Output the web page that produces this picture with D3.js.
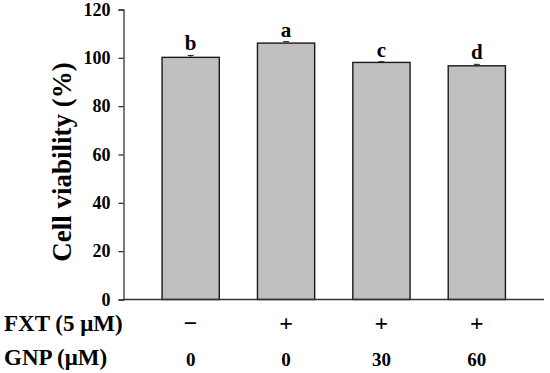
<!DOCTYPE html>
<html>
<head>
<script src="https://d3js.org/d3.v7.min.js"></script>
<style>
  body { margin: 0; background: #fff; }
</style>
</head>
<body>
<svg id="chart" width="550" height="373"></svg>
<script>
// data
var groups = ["g1", "g2", "g3", "g4"];
var viability = [100.2, 106.1, 98.1, 96.7];
var errors = [0.8, 0.6, 0.3, 0.6];
var letters = ["b", "a", "c", "d"];
var fxtRow = ["\u2212", "+", "+", "+"];
var gnpRow = ["0", "0", "30", "60"];
var yTicks = [0, 20, 40, 60, 80, 100, 120];

var serif = "'Liberation Serif', 'Times New Roman', 'DejaVu Serif', serif";

var svg = d3.select("#chart")
    .attr("font-family", serif)
    .attr("font-weight", "bold");

var x = d3.scaleBand().domain(groups).range([143, 524.5]).paddingInner(0.4).paddingOuter(0.2);
var y = d3.scaleLinear().domain([0, 120]).range([299.5, 9.5]);

// bars
svg.selectAll("rect.bar")
    .data(viability)
    .join("rect")
    .attr("class", "bar")
    .attr("x", (d, i) => x(groups[i]))
    .attr("y", d => y(d))
    .attr("width", x.bandwidth())
    .attr("height", d => y(0) - y(d))
    .attr("fill", "#c0c0c0")
    .attr("stroke", "#1a1a1a")
    .attr("stroke-width", 1.4);

// error bars (upper only)
svg.selectAll("g.err")
    .data(viability)
    .join("g")
    .attr("class", "err")
    .each(function (d, i) {
        var cx = x(groups[i]) + x.bandwidth() / 2;
        var g = d3.select(this);
        g.append("line").attr("x1", cx).attr("x2", cx)
            .attr("y1", y(d)).attr("y2", y(d + errors[i]))
            .attr("stroke", "#222").attr("stroke-width", 1);
        g.append("line").attr("x1", cx - 3).attr("x2", cx + 3)
            .attr("y1", y(d + errors[i])).attr("y2", y(d + errors[i]))
            .attr("stroke", "#222").attr("stroke-width", 1);
    });

// significance letters
svg.selectAll("text.letter")
    .data(letters)
    .join("text")
    .attr("class", "letter")
    .attr("x", (d, i) => x(groups[i]) + x.bandwidth() / 2)
    .attr("y", (d, i) => y(viability[i] + errors[i]) - 5)
    .attr("text-anchor", "middle")
    .attr("font-size", 21)
    .text(d => d);

// y axis
var yAxis = svg.append("g")
    .attr("transform", "translate(123.5,0)")
    .call(d3.axisLeft(y).tickValues(yTicks).tickSize(5).tickPadding(8));
yAxis.attr("font-family", serif).attr("font-size", 18);
yAxis.selectAll("text").attr("fill", "#000");
yAxis.selectAll("line, path").attr("stroke", "#333").attr("stroke-width", 1.3);

// x axis baseline
svg.append("line")
    .attr("x1", 123.5).attr("x2", 544)
    .attr("y1", y(0)).attr("y2", y(0))
    .attr("stroke", "#333").attr("stroke-width", 1.3);

// y title
svg.append("text")
    .attr("transform", "translate(71,162) rotate(-90)")
    .attr("text-anchor", "middle")
    .attr("font-size", 27)
    .text("Cell viability (%)");

// treatment rows
svg.append("text").attr("x", 4).attr("y", 331).attr("font-size", 23).text("FXT (5 \u03bcM)");
svg.append("text").attr("x", 4).attr("y", 365).attr("font-size", 23).text("GNP (\u03bcM)");

svg.selectAll("text.fxt")
    .data(fxtRow)
    .join("text")
    .attr("class", "fxt")
    .attr("x", (d, i) => x(groups[i]) + x.bandwidth() / 2)
    .attr("y", 331)
    .attr("text-anchor", "middle")
    .attr("font-size", 24)
    .text(d => d);

svg.selectAll("text.gnp")
    .data(gnpRow)
    .join("text")
    .attr("class", "gnp")
    .attr("x", (d, i) => x(groups[i]) + x.bandwidth() / 2)
    .attr("y", 366)
    .attr("text-anchor", "middle")
    .attr("font-size", 19)
    .text(d => d);
</script>
</body>
</html>
